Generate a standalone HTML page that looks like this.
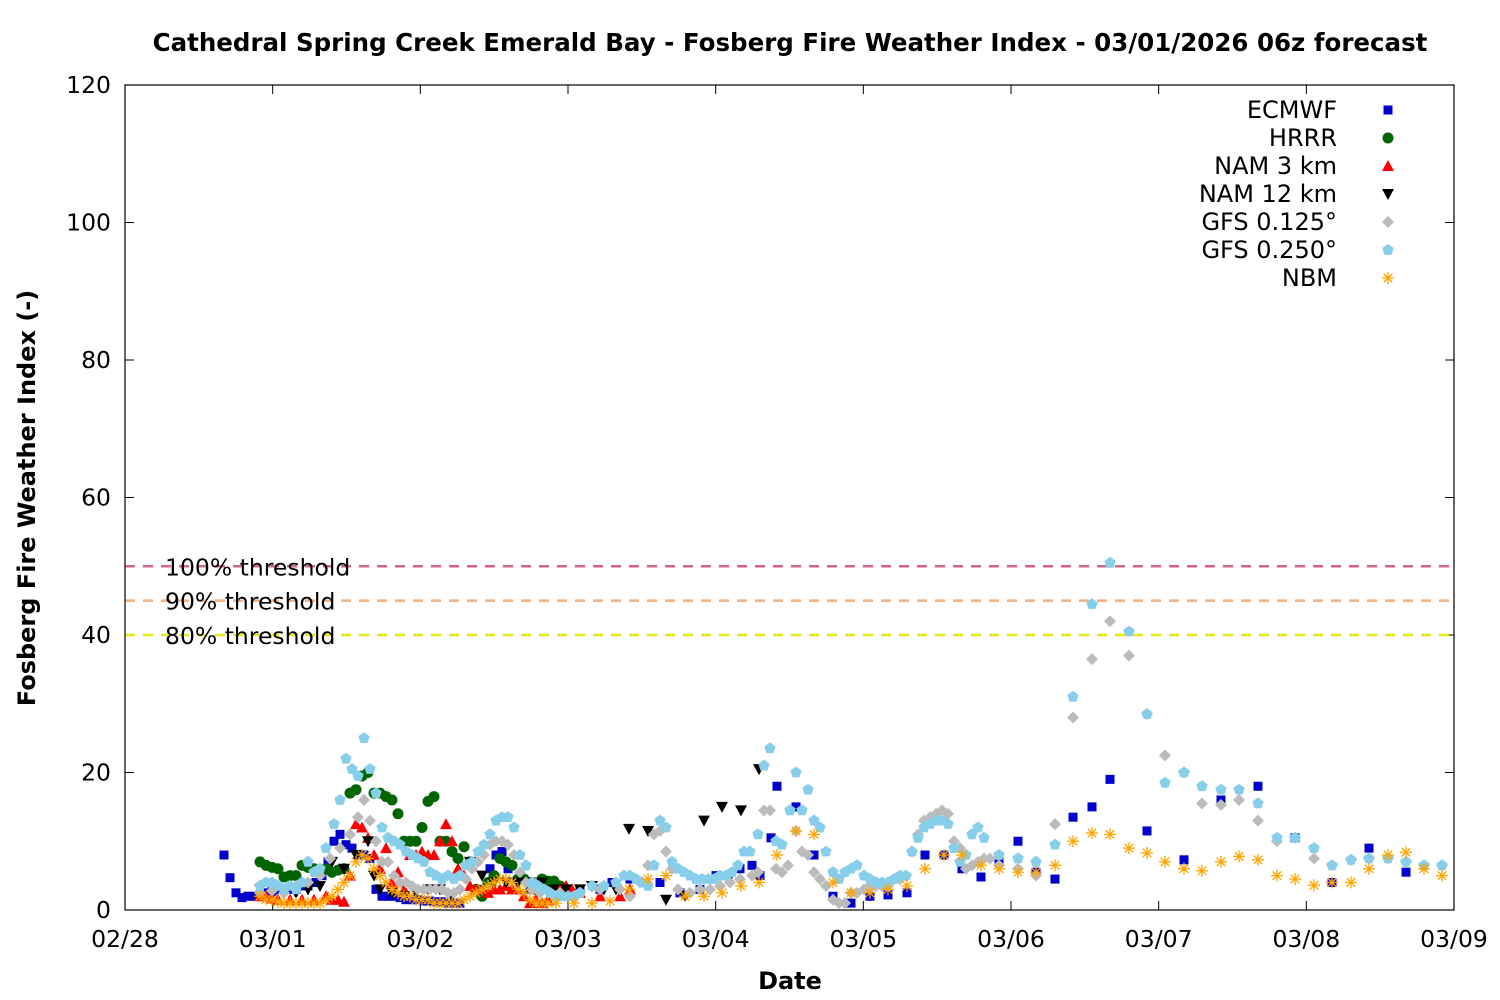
<!DOCTYPE html>
<html><head><meta charset="utf-8"><style>
html,body{margin:0;padding:0;background:#fff;}
svg{display:block;font-family:"DejaVu Sans","Liberation Sans",sans-serif;}
</style></head><body>
<svg id="s" width="1500" height="1000" xmlns="http://www.w3.org/2000/svg">
<rect width="1500" height="1000" fill="#fff"/>
<text x="790" y="51" font-size="24.5" font-weight="bold" text-anchor="middle">Cathedral Spring Creek Emerald Bay - Fosberg Fire Weather Index - 03/01/2026 06z forecast</text>
<text x="790" y="989" font-size="24" font-weight="bold" text-anchor="middle">Date</text>
<text transform="translate(35,498) rotate(-90)" font-size="24" font-weight="bold" text-anchor="middle">Fosberg Fire Weather Index (-)</text>
<g id="ax"></g>
<g id="pts"></g>
<rect x="125" y="85" width="1329" height="825" fill="none" stroke="#000" stroke-width="1.2"/>
</svg>
<script>
const NS="http://www.w3.org/2000/svg";
const ax=document.getElementById('ax'),pts=document.getElementById('pts');
function el(p,t,a,txt){const e=document.createElementNS(NS,t);for(const k in a)e.setAttribute(k,a[k]);if(txt)e.textContent=txt;p.appendChild(e);return e;}
const Y=v=>910-v*6.875;
for(let v=0;v<=120;v+=20){const y=Y(v);
el(ax,'line',{x1:125,x2:134,y1:y,y2:y,stroke:'#000'});el(ax,'line',{x1:1445,x2:1454,y1:y,y2:y,stroke:'#000'});
el(ax,'text',{x:111,y:y+8,'font-size':23.5,'text-anchor':'end'},String(v));}
const days=['02/28','03/01','03/02','03/03','03/04','03/05','03/06','03/07','03/08','03/09'];
days.forEach((d,i)=>{const x=125+i*1329/9;
el(ax,'line',{x1:x,x2:x,y1:901,y2:910,stroke:'#000'});el(ax,'line',{x1:x,x2:x,y1:85,y2:94,stroke:'#000'});
el(ax,'text',{x:x,y:947,'font-size':23.5,'text-anchor':'middle'},d);});
[[50,'#d06a86','100% threshold'],[45,'#f2b07e','90% threshold'],[40,'#e8e810','80% threshold']].forEach(t=>{
const y=Y(t[0]);el(ax,'line',{x1:125,x2:1454,y1:y,y2:y,stroke:t[1],'stroke-width':2.5,'stroke-dasharray':'10,8'});
el(ax,'text',{x:165,y:y+9,'font-size':23.5},t[2]);});
function mk(g,type,x,y,c){
 if(type=='sq')el(g,'rect',{x:x-4.5,y:y-4.5,width:9,height:9,fill:c});
 else if(type=='ci')el(g,'circle',{cx:x,cy:y,r:5.5,fill:c});
 else if(type=='up')el(g,'polygon',{points:`${x-6},${y+5} ${x+6},${y+5} ${x},${y-6}`,fill:c});
 else if(type=='dn')el(g,'polygon',{points:`${x-6},${y-5} ${x+6},${y-5} ${x},${y+6}`,fill:c});
 else if(type=='di')el(g,'polygon',{points:`${x},${y-6} ${x+6},${y} ${x},${y+6} ${x-6},${y}`,fill:c});
 else if(type=='pe'){let p=[];for(let i=0;i<5;i++){const a=-Math.PI/2+i*2*Math.PI/5;p.push((x+6*Math.cos(a)).toFixed(1)+','+(y+6*Math.sin(a)).toFixed(1));}el(g,'polygon',{points:p.join(' '),fill:c});}
 else if(type=='as'){for(let i=0;i<4;i++){const a=i*Math.PI/4;el(g,'line',{x1:x-6*Math.cos(a),y1:y-6*Math.sin(a),x2:x+6*Math.cos(a),y2:y+6*Math.sin(a),stroke:c,'stroke-width':1.3});}}
}
const S=[
['ECMWF','sq','#0000cc',[[224,8],[230,4.7],[236,2.5],[242,1.8],[248,2],[254,2],[260,2.2],[266,2.5],[272,2.7],[278,3],[284,3],[290,3],[296,3],[302,3.5],[308,3.5],[316,4],[322,5],[328,7],[334,10],[340,11],[346,9.5],[352,9],[358,8],[364,8],[370,7.5],[376,3],[382,2],[388,2],[394,2],[400,1.8],[406,1.5],[412,1.5],[418,1.5],[424,1.3],[430,1.3],[436,1.2],[442,1.2],[448,1],[454,1],[460,1],[478,3],[490,6],[496,8],[502,8.5],[508,6],[520,5],[530,3],[540,3],[560,3],[580,3],[600,3],[612,4],[630,4.5],[660,4],[680,2.5],[700,3],[716,5],[728,5],[740,6],[752,6.5],[760,5],[771,10.5],[777,18],[796,15],[814,8],[833,2],[851,1],[870,2],[888,2.2],[907,2.5],[925,8],[944,8],[962,6],[981,4.8],[999,7],[1018,10],[1036,5.5],[1055,4.5],[1073,13.5],[1092,15],[1110,19],[1147,11.5],[1184,7.3],[1221,16],[1258,18],[1295,10.5],[1332,4],[1369,9],[1406,5.5]]],
['HRRR','ci','#006400',[[260,7],[266,6.5],[272,6.2],[278,6],[284,4.8],[290,5],[296,5],[302,6.5],[308,6.2],[314,6],[320,5.8],[326,6],[332,5.5],[338,5.8],[344,6],[350,17],[356,17.5],[362,19.5],[368,20],[374,17],[380,17],[386,16.5],[392,16],[398,14],[404,10],[410,10],[416,10],[422,12],[428,15.8],[434,16.5],[440,10],[446,10],[452,8.5],[458,7.5],[464,9.2],[470,7],[476,3],[482,2],[488,4],[494,5],[500,7.5],[506,7],[512,6.5],[518,4.5],[524,4.5],[530,4],[536,3],[542,4.5],[548,4.2],[554,4.2],[560,3.5]]],
['NAM 3 km','up','#ff0000',[[260,2],[266,2],[272,1.7],[278,1.5],[290,1.5],[302,1.5],[314,1.5],[326,2],[332,1.5],[338,1.5],[344,1.2],[350,5],[356,12.5],[362,12],[368,10.5],[374,8],[380,6],[386,9],[392,4],[398,5.5],[404,3],[410,8],[416,8],[422,8.5],[428,8],[434,8],[440,10],[446,12.5],[452,10],[458,6],[464,5],[470,3.5],[476,3],[482,3],[488,2.5],[494,3],[500,3],[506,3.5],[512,3],[518,3],[524,2],[530,1],[536,1.5],[542,1],[548,1.5],[560,3],[566,3.5],[572,3],[580,2.5],[600,2],[620,2],[630,3]]],
['NAM 12 km','dn','#000000',[[260,3],[272,3.5],[284,3],[296,2.5],[308,3],[320,3.5],[332,7],[344,6],[356,8],[368,10],[374,5],[380,3],[392,2.5],[404,2],[416,2.5],[428,3],[440,3],[452,2],[470,7],[482,5],[494,4],[506,4],[518,4],[530,4],[542,4],[554,3],[566,3],[580,3],[592,3.5],[604,3],[616,3],[629,11.8],[648,11.5],[666,1.5],[685,2],[704,13],[722,15],[741,14.5],[759,20.5]]],
['GFS 0.125°','di','#bbbbbb',[[260,2.5],[272,2.8],[284,2.5],[296,3.5],[308,4],[320,5],[330,7.5],[340,9],[350,11],[358,13.5],[364,16],[370,13],[376,10],[382,7],[388,7],[394,5],[400,4],[406,4],[412,3.5],[418,3],[424,3],[430,3],[436,3],[442,3],[448,2.5],[454,2.5],[460,3],[466,4.5],[472,6],[478,7],[484,8],[490,9.5],[496,10],[502,10],[508,9.5],[514,8],[520,5.5],[526,4],[532,3],[540,2.5],[560,2.5],[580,2.5],[600,3],[620,3],[630,2],[640,4],[648,6.5],[654,11],[660,11.5],[666,8.5],[672,6],[678,3],[690,2.5],[700,3],[710,3],[720,3.5],[730,4],[740,4.5],[752,5],[758,5.5],[764,14.5],[770,14.5],[776,6],[782,5.5],[788,6.5],[796,11.5],[802,8.5],[808,8],[814,5.5],[820,4.5],[826,3.5],[833,1.5],[839,1],[845,1],[851,2.5],[857,2.5],[864,3],[870,3.5],[876,3.5],[882,3.5],[888,3.5],[894,4.5],[900,4.5],[906,5],[912,8.5],[918,11],[924,13],[930,13.5],[936,14],[942,14.5],[948,14],[954,10],[960,9],[966,6],[972,6.5],[978,7],[984,7.5],[990,7.5],[999,6.5],[1018,6],[1036,5],[1055,12.5],[1073,28],[1092,36.5],[1110,42],[1129,37],[1147,28.5],[1165,22.5],[1184,20],[1202,15.5],[1221,15.3],[1239,16],[1258,13],[1277,10],[1295,10.5],[1314,7.5],[1332,6.5],[1351,7.3],[1369,7.5],[1388,7.5],[1406,7],[1424,6.5],[1442,6.5]]],
['GFS 0.250°','pe','#87ceeb',[[260,3.5],[266,4],[272,4],[278,3.5],[284,3],[290,3.5],[296,3],[302,4],[308,7],[314,5.5],[320,6],[326,9],[334,12.5],[340,16],[346,22],[352,20.5],[358,19.5],[364,25],[370,20.5],[376,17],[382,12],[388,10.5],[394,10],[400,9.5],[406,8.5],[412,8],[418,7.5],[424,7],[430,5.5],[436,5],[442,4.5],[448,5],[454,4.5],[460,5],[466,6.5],[472,7],[478,8.5],[484,9.5],[490,11],[496,13],[502,13.5],[508,13.5],[514,12],[520,8],[526,6.5],[532,4],[538,3.5],[544,3],[550,2.5],[556,2],[562,2],[568,2],[574,2],[580,2.5],[592,3.5],[604,3.5],[616,4],[624,5],[630,5],[636,4.5],[642,4],[648,3.5],[654,6.5],[660,13],[666,12],[672,7],[678,6],[684,5.5],[690,5],[696,4.5],[702,4.5],[708,4.5],[714,4.5],[720,5],[726,5],[732,5.5],[738,6.5],[744,8.5],[750,8.5],[758,11],[764,21],[770,23.5],[776,10],[782,9.5],[790,14.5],[796,20],[802,14.5],[808,17.5],[814,13],[820,12],[826,8.5],[833,5.5],[839,4.5],[845,5.5],[851,6],[857,6.5],[864,5],[870,4.5],[876,4],[882,4],[888,4],[894,4.5],[900,5],[906,5],[912,8.5],[918,10.5],[924,12],[930,12.5],[936,13],[942,13],[948,12.5],[954,9],[960,7],[966,8],[972,11],[978,12],[984,10.5],[999,8],[1018,7.5],[1036,7],[1055,9.5],[1073,31],[1092,44.5],[1110,50.5],[1129,40.5],[1147,28.5],[1165,18.5],[1184,20],[1202,18],[1221,17.5],[1239,17.5],[1258,15.5],[1277,10.5],[1295,10.5],[1314,9],[1332,6.5],[1351,7.3],[1369,7.5],[1388,7.5],[1406,7],[1424,6.5],[1442,6.5]]],
['NBM','as','#ffa500',[[260,2],[266,1.5],[272,1.5],[278,1.2],[284,1],[290,1],[296,1],[302,1],[308,1],[314,1],[320,1],[326,1.5],[332,2],[338,3],[344,4],[350,5],[356,7],[362,8],[368,7.5],[374,6],[380,5],[386,4],[392,3],[398,2.5],[404,2],[410,2],[416,1.5],[422,1.5],[428,1.5],[434,1],[440,1],[446,1],[452,1],[458,1],[464,1.5],[470,2],[476,2.5],[482,3],[488,3.5],[494,4],[500,4.5],[506,4.5],[512,4],[518,3],[524,2.5],[530,1.5],[536,1],[542,1],[548,1],[556,1],[574,1],[592,1],[610,1.3],[629,3],[648,4.5],[666,5],[685,2],[704,2],[722,2.5],[741,3.5],[759,4],[777,8],[796,11.5],[814,11],[833,4],[851,2.5],[870,2.5],[888,3],[907,3.5],[925,6],[944,8],[962,8],[981,6.5],[999,6],[1018,5.5],[1036,5.5],[1055,6.5],[1073,10],[1092,11.2],[1110,11],[1129,9],[1147,8.3],[1165,7],[1184,6],[1202,5.7],[1221,7],[1239,7.8],[1258,7.3],[1277,5],[1295,4.5],[1314,3.6],[1332,4],[1351,4],[1369,6],[1388,8],[1406,8.4],[1424,6],[1442,5]]]
];
S.forEach((s,i)=>{const g=el(pts,'g',{});s[3].forEach(p=>mk(g,s[1],p[0],Y(p[1]),s[2]));
const ly=110+i*28;el(ax,'text',{x:1337,y:ly+8,'font-size':24,'text-anchor':'end'},s[0]);mk(ax,s[1],1388,ly,s[2]);});
</script>
</body></html>
